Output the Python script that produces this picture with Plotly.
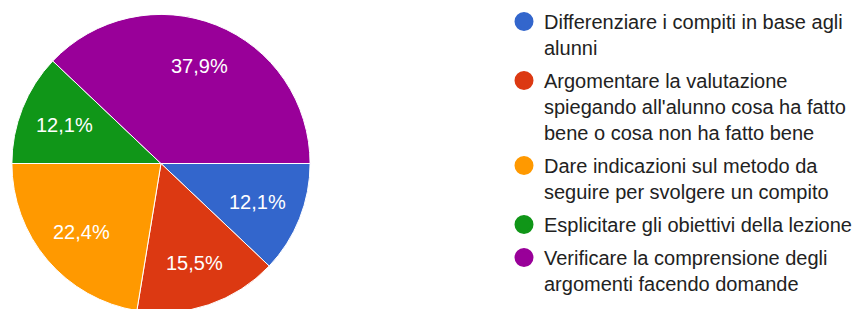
import math
import plotly.graph_objects as go

categories = [
    "Differenziare i compiti in base agli<br>alunni",
    "Argomentare la valutazione<br>spiegando all'alunno cosa ha fatto<br>bene o cosa non ha fatto bene",
    "Dare indicazioni sul metodo da<br>seguire per svolgere un compito",
    "Esplicitare gli obiettivi della lezione",
    "Verificare la comprensione degli<br>argomenti facendo domande",
]
counts = [7, 9, 13, 7, 22]
colors = ["#3366cc", "#dc3912", "#ff9900", "#109618", "#990099"]

W, H = 857, 316
FONT = "Liberation Sans, Arial, sans-serif"

# pie box in pixels (top-left origin)
PX0, PX1, PY0, PY1 = 12, 313, 13, 314
cx, cy = (PX0 + PX1) / 2, (PY0 + PY1) / 2
R = min(PX1 - PX0, PY1 - PY0) / 2

fig = go.Figure()
fig.add_trace(go.Pie(
    labels=categories,
    values=counts,
    sort=False,
    direction="clockwise",
    rotation=90,
    marker=dict(colors=colors, line=dict(color="white", width=1)),
    textinfo="none",
    showlegend=False,
    hoverinfo="skip",
    domain=dict(x=[PX0 / W, PX1 / W], y=[1 - PY1 / H, 1 - PY0 / H]),
))

# percentage labels placed along each slice's bisector
total = sum(counts)
cum = 0
for v in counts:
    mid = (cum + v / 2) / total
    cum += v
    ang = 2 * math.pi * mid
    lx = cx + 0.7 * R * math.cos(ang)
    ly = cy + 0.7 * R * math.sin(ang)
    fig.add_annotation(
        x=lx / W, y=1 - ly / H, xref="paper", yref="paper",
        text=f"{100 * v / total:.1f}".replace(".", ",") + "%",
        showarrow=False, xanchor="center", yanchor="middle",
        font=dict(color="white", size=20, family=FONT),
    )

for i, (name, col) in enumerate(zip(categories, colors)):
    fig.add_trace(go.Scatter(
        x=[None], y=[None], mode="markers", name=name,
        legendgroup=f"g{i}",
        marker=dict(symbol="circle", size=16, color=col, line=dict(color=col, width=3)),
        showlegend=True,
    ))

fig.update_layout(
    width=W, height=H,
    margin=dict(l=0, r=0, t=0, b=0),
    paper_bgcolor="white", plot_bgcolor="white",
    xaxis=dict(visible=False), yaxis=dict(visible=False),
    legend=dict(
        x=(529 - 20) / W, xanchor="left", y=1 - 2 / H, yanchor="top",
        font=dict(size=20, color="#222222", family=FONT),
        valign="top", tracegroupgap=4, itemwidth=30,
        bgcolor="rgba(0,0,0,0)",
    ),
)

fig.write_html(
    "out.html",
    config={"displayModeBar": False},
    post_script="document.body.style.margin='0';document.body.style.overflow='hidden';",
)
